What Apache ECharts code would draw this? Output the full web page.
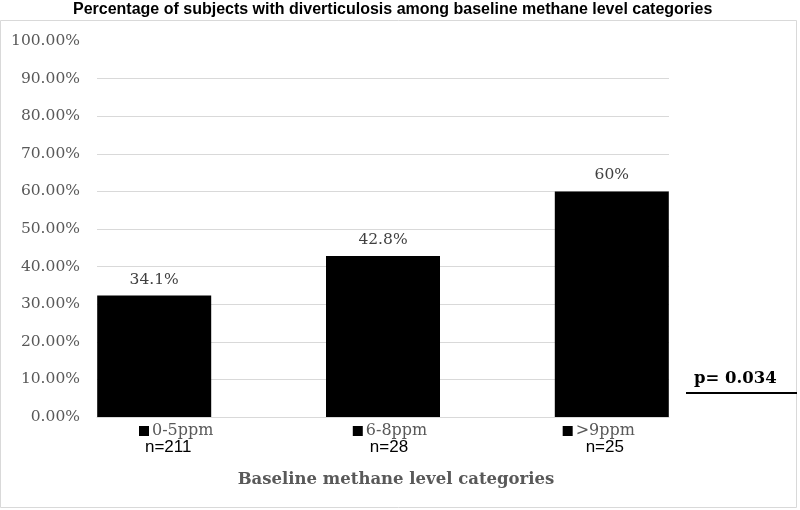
<!DOCTYPE html>
<html>
<head>
<meta charset="utf-8">
<style>
    html, body { margin: 0; padding: 0; background: #ffffff; }
    #chart { width: 800px; height: 510px; }
</style>
<script src="https://cdn.jsdelivr.net/npm/echarts@6/dist/echarts.min.js"></script>
</head>
<body>
<div id="chart"></div>
<script>
    // data
    var categories = ['0-5ppm', '6-8ppm', '>9ppm'];
    var sampleSizes = ['n=211', 'n=28', 'n=25'];
    var values = [32.3, 42.8, 60];
    var valueLabels = ['34.1%', '42.8%', '60%'];
    var yTicks = [0, 10, 20, 30, 40, 50, 60, 70, 80, 90, 100];

    // how far each label line sits off its bar centre (px): [category line, n line]
    var labelShift = [[22, 14], [7, 6], [-13, -7]];

    var serif = '"DejaVu Serif", serif';

    var rich = {
        sq: { width: 10, height: 10, backgroundColor: '#000000', lineHeight: 18 },
        c: { fontFamily: serif, fontSize: 16, color: '#595959', padding: [0, 0, 0, 3], lineHeight: 18 },
        n: { fontFamily: '"Liberation Sans", sans-serif', fontSize: 17, color: '#000000', lineHeight: 15 }
    };
    labelShift.forEach(function (s, i) {
        rich['sa' + i] = { width: 2 * Math.abs(s[0]), lineHeight: 18 };
        rich['sb' + i] = { width: 2 * Math.abs(s[1]), lineHeight: 15 };
    });

    function categoryLabel(v) {
        var i = Math.round(v);
        if (Math.abs(v - i) > 1e-6 || i < 0 || i >= categories.length) {
            return '';
        }
        var s = labelShift[i];
        var line1 = (s[0] > 0 ? '{sa' + i + '| }' : '') + '{sq| }{c|' + categories[i] + '}' + (s[0] < 0 ? '{sa' + i + '| }' : '');
        var line2 = (s[1] > 0 ? '{sb' + i + '| }' : '') + '{n|' + sampleSizes[i] + '}' + (s[1] < 0 ? '{sb' + i + '| }' : '');
        return line1 + '\n' + line2;
    }

    var chart = echarts.init(document.getElementById('chart'));

    var options = {
        animation: false,
        backgroundColor: '#ffffff',
        title: {
            text: '{b|Percentage of subjects with diverticulosis among baseline methane level categorie}{r|s}',
            left: 73,
            top: 2,
            padding: 0,
            textStyle: {
                rich: {
                    b: { fontFamily: '"Liberation Sans", sans-serif', fontSize: 16, fontWeight: 'bold', color: '#000000' },
                    r: { fontFamily: '"Liberation Sans", sans-serif', fontSize: 16, color: '#000000' }
                }
            }
        },
        grid: {
            left: 97,
            right: 131,
            top: 41,
            bottom: 93
        },
        xAxis: {
            type: 'value',
            min: -0.25,
            max: 2.25,
            interval: 0.25,
            splitLine: { show: false },
            axisTick: { show: false },
            axisLine: { show: true, lineStyle: { color: '#d9d9d9', width: 1 } },
            axisLabel: {
                margin: 5,
                showMinLabel: false,
                showMaxLabel: false,
                formatter: categoryLabel,
                rich: rich
            },
            name: 'Baseline methane level categories',
            nameLocation: 'middle',
            nameGap: 54,
            nameTextStyle: {
                fontFamily: serif,
                fontSize: 16.5,
                fontWeight: 'bold',
                color: '#595959',
                padding: [0, 0, 0, 26]
            }
        },
        yAxis: {
            type: 'value',
            min: yTicks[0],
            max: yTicks[yTicks.length - 1],
            interval: yTicks[1] - yTicks[0],
            axisLine: { show: false },
            axisTick: { show: false },
            splitLine: {
                show: true,
                showMinLine: false,
                showMaxLine: false,
                lineStyle: { color: '#d9d9d9', width: 1 }
            },
            axisLabel: {
                margin: 17,
                fontFamily: serif,
                fontSize: 15.5,
                color: '#595959',
                formatter: function (v) {
                    return v.toFixed(2) + '%';
                }
            }
        },
        series: [
            {
                type: 'bar',
                barWidth: 114,
                data: values.map(function (v, i) { return [i, v]; }),
                itemStyle: { color: '#000000' },
                label: {
                    show: true,
                    position: 'top',
                    distance: 8,
                    fontFamily: serif,
                    fontSize: 15.5,
                    color: '#404040',
                    formatter: function (p) {
                        return valueLabels[p.dataIndex];
                    }
                }
            }
        ],
        graphic: [
            {
                type: 'rect',
                z: -1,
                shape: { x: 0.5, y: 20.5, width: 796, height: 487 },
                style: { fill: 'none', stroke: '#d9d9d9', lineWidth: 1 }
            },
            {
                type: 'text',
                left: 694,
                top: 370,
                style: {
                    text: 'p= 0.034',
                    font: 'bold 16.5px "DejaVu Serif", serif',
                    fill: '#000000'
                }
            },
            {
                type: 'line',
                shape: { x1: 686, y1: 393, x2: 797, y2: 393 },
                style: { stroke: '#000000', lineWidth: 2 }
            }
        ]
    };

    chart.setOption(options);
</script>
</body>
</html>
